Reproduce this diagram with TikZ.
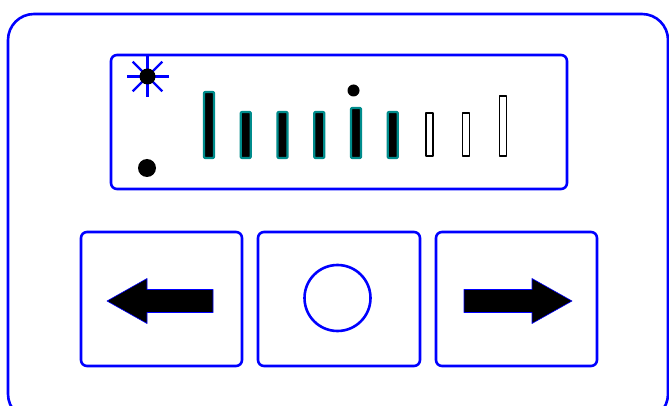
\documentclass[tikz,border=0pt]{standalone}
\definecolor{frame}{RGB}{0,0,255}
\definecolor{segm}{RGB}{0,140,140}
\begin{document}
\begin{tikzpicture}[x=1pt, y=-1pt, line join=round, line cap=round]
			\tikzset{panel/.style={draw=frame, line width=2.6pt, rounded corners=6pt},
				seg/.style={fill=black, draw=segm, line width=2.2pt, rounded corners=1pt},
				segoff/.style={fill=white, draw=black, line width=1.3pt},
				arrowkey/.style={fill=black, draw=frame, line width=0.6pt}}
			\useasboundingbox (0,0) rectangle (669,406);
			\clip (0,0) rectangle (669,406);
			% Gehaeuse
			\draw[draw=frame, line width=2.6pt, rounded corners=26pt] (8,14) rectangle (668,420);
			% Anzeige
			\draw[panel] (111,55) rectangle (567,189);
			\coordinate (sun) at (147.5,76.5);
			\foreach \w in {0,45,...,315}
				\draw[frame, line width=2.2pt, line cap=butt] (sun) -- ++(\w:21);
			\fill (sun) circle (8);
			\fill (147,168) circle (9);
			\fill (353.5,90.5) circle (6);
			\def\dx{36.75}
			\foreach \i/\t in {0/92,1/112,2/112,3/112,4/108,5/112}
				\draw[seg] (209-5+\i*\dx,\t) rectangle (209+5+\i*\dx,158);
			\foreach \i/\t in {6/113,7/113,8/96}
				\draw[segoff] (209-3.5+\i*\dx,\t) rectangle (209+3.5+\i*\dx,156);
			% Tasten
			\draw[panel] (81,232) rectangle (242,366);
			\draw[panel] (258,232) rectangle (420,366);
			\draw[panel] (436,232) rectangle (597,366);
			\draw[arrowkey] (213,289.5)--(147,289.5)--(147,278.5)--(107,301)--(147,323.5)--(147,312.5)--(213,312.5)--cycle;
			\draw[arrowkey] (464,289.5)--(532,289.5)--(532,278.5)--(572,301)--(532,323.5)--(532,312.5)--(464,312.5)--cycle;
			\draw[frame, line width=2.6pt] (337.5,298) circle (33);
		\end{tikzpicture}
\end{document}
